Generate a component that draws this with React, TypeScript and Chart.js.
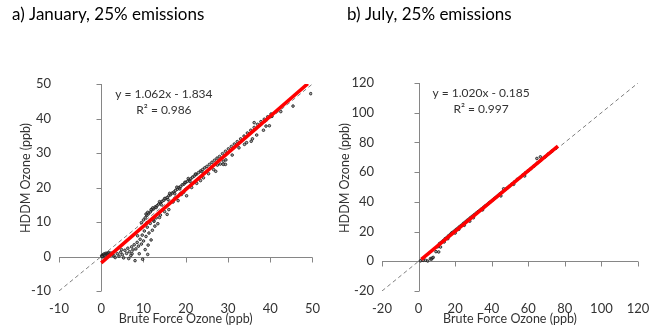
import React, { useEffect, useRef } from "react";
import { Chart, registerables } from "chart.js";

Chart.register(...registerables);

// ---------- text ----------
const janTitle = "a) January, 25% emissions";
const julTitle = "b) July, 25% emissions";
const xTitle = "Brute Force Ozone (ppb)";
const yTitle = "HDDM Ozone (ppb)";
const janEquation = "y = 1.062x - 1.834";
const janR2 = "R² = 0.986";
const julEquation = "y = 1.020x - 0.185";
const julR2 = "R² = 0.997";

// ---------- axes (min, max, step) ----------
const janAxisMin = -10;
const janAxisMax = 50;
const janAxisStep = 10;
const julAxisMin = -20;
const julAxisMax = 120;
const julAxisStep = 20;

// ---------- January scatter (brute force, HDDM) ----------
const janPoints: [number, number][] = [
  [0.1, 0.2], [0.3, 0.4], [0.5, 0.3], [0.6, 0.7], [0.8, 0.5], [1.0, 0.9], [1.2, 0.6], [1.4, 1.0],
  [1.6, 0.8], [1.8, 1.1], [0.4, -0.1], [2.0, 0.6], [2.3, 1.0], [2.6, 0.4], [0.2, 0.0], [0.9, 0.2], [1.5, 0.3],
  [3.0, 0.2], [3.3, -0.3], [3.8, 0.8], [4.2, 0.1], [4.6, 1.2], [5.0, 0.5], [5.3, -0.4], [5.6, 1.8],
  [6.0, 0.9], [6.3, 2.4], [6.7, 1.4], [7.0, 0.3], [7.2, 2.8], [7.5, 1.9], [7.8, 3.4], [8.0, -1.2],
  [8.2, 2.2], [8.5, 4.1], [8.8, 3.0], [9.0, 0.8], [9.2, 5.0], [9.5, 3.6], [9.7, 6.2], [10.0, 4.5],
  [10.2, 7.4], [10.4, 2.0], [10.6, 5.8], [10.9, 8.5], [11.1, 3.3], [11.3, 6.8], [11.6, 9.6], [11.8, 4.8],
  [12.1, 7.6], [12.4, 10.5], [12.7, 8.8], [13.0, 11.2], [13.4, 9.5], [14.0, 12.0], [6.5, -0.6], [9.8, -0.8],
  [4.8, 2.0], [8.6, 6.0], [10.8, 9.8], [7.3, 0.8], [11.0, 0.6], [15.6, 12.2],
  [9.5, 9.8], [10.0, 10.6], [10.4, 11.2], [10.8, 11.9], [11.2, 12.4], [11.6, 12.9], [12.0, 13.5], [12.4, 13.8],
  [12.8, 14.4], [13.2, 14.7], [13.6, 15.2], [14.0, 15.5], [14.4, 16.0], [14.8, 16.3], [15.2, 16.8], [15.6, 17.1],
  [16.0, 17.6], [16.4, 17.9], [16.8, 18.4], [17.2, 18.7], [17.6, 19.2], [18.0, 19.5], [18.4, 20.0], [18.8, 20.3],
  [19.2, 20.8], [19.6, 21.0], [20.0, 21.5], [20.4, 21.8], [20.8, 22.2], [21.2, 22.5], [21.6, 23.0], [22.0, 23.3],
  [22.5, 23.8], [23.0, 24.3], [23.5, 24.8], [24.0, 25.2], [24.5, 25.7], [25.0, 26.1], [25.6, 26.7], [26.2, 27.3],
  [26.8, 27.9], [27.4, 28.5], [28.0, 29.0], [28.7, 29.8], [29.4, 30.5], [30.1, 31.2], [30.8, 31.9], [31.5, 32.6],
  [32.2, 33.3], [33.0, 34.1], [33.8, 34.9], [34.6, 35.8], [35.4, 36.6], [36.2, 37.4], [37.0, 38.3], [37.8, 39.1],
  [38.6, 39.8], [39.4, 40.5], [40.2, 41.3],
  [11.0, 12.8], [12.2, 14.1], [13.0, 14.2], [14.2, 15.0], [15.0, 16.8], [16.2, 18.3], [17.4, 18.2], [18.6, 19.6],
  [19.8, 21.5], [21.0, 21.8], [22.3, 23.9], [23.8, 24.6], [10.6, 12.3], [11.8, 13.6], [13.8, 15.9], [15.8, 16.5],
  [17.9, 20.1], [20.6, 22.6],
  [12.5, 10.2], [13.8, 11.3], [15.0, 13.0], [16.0, 13.6], [17.0, 15.8], [18.2, 16.2], [19.0, 18.0], [20.2, 17.6],
  [21.4, 20.0], [22.6, 21.2], [24.2, 22.8], [25.4, 24.0], [26.6, 25.2], [28.2, 26.8], [29.5, 28.0], [31.0, 29.4],
  [32.6, 31.5], [34.4, 33.0], [35.8, 34.1], [36.8, 35.2], [38.4, 36.6], [39.0, 37.8], [39.8, 37.9], [40.4, 40.6],
  [45.4, 43.6], [49.6, 47.2], [42.5, 42.0], [19.5, 18.6], [23.5, 22.0], [27.5, 26.5],
  [27.1, 24.7], [28.9, 26.7], [36.2, 38.8], [33.9, 32.5], [35.5, 33.4], [28.9, 27.6], [29.4, 26.7],
];

// January regression line end points and 1:1 reference line
const janFitX = [0, 48.9];
const janFitY = [-1.834, 50.1];
const janRefX = [-10, 50];
const janRefY = [-10, 50];

// ---------- July scatter (brute force, HDDM) ----------
const julPoints: [number, number][] = [
  [1.0, 0.3], [2.5, 0.6], [3.8, 0.7], [5.0, 0.2], [6.5, 1.8], [7.0, 1.4], [7.5, 2.2], [8.0, 2.6],
  [9.5, 6.5], [11.0, 6.3], [12.0, 9.6], [10.5, 9.8], [11.5, 12.0], [12.5, 12.8], [13.5, 13.9], [14.5, 15.2],
  [15.5, 16.1], [16.5, 17.3], [17.5, 18.2], [18.5, 19.4], [19.5, 20.3], [20.5, 21.4], [21.5, 22.3], [22.5, 23.4],
  [23.5, 24.3], [24.5, 25.5], [25.5, 26.4], [26.5, 27.5], [27.5, 28.4], [28.5, 29.5], [29.5, 30.4], [30.5, 31.4],
  [31.5, 32.4], [32.5, 33.4], [33.5, 34.3], [34.5, 35.3], [35.5, 36.3], [36.5, 37.3], [37.5, 38.2], [38.5, 39.3],
  [39.5, 40.2], [40.5, 41.2], [41.5, 42.3], [42.5, 43.2], [43.5, 44.3], [44.5, 45.4], [45.5, 46.3], [46.5, 48.8],
  [47.5, 48.4], [48.5, 49.3], [49.5, 50.4], [51.0, 52.0], [52.5, 53.5], [54.0, 55.2], [55.5, 56.4], [57.0, 58.1],
  [58.5, 59.6], [60.0, 61.0], [61.5, 62.4], [63.0, 64.0], [64.7, 69.2], [66.6, 70.3], [65.0, 66.2], [67.0, 68.3],
  [69.0, 70.2], [71.0, 72.3], [73.0, 74.2], [75.0, 76.0], [16.0, 15.2], [20.0, 19.0], [25.0, 24.2], [30.0, 29.3],
  [14.0, 13.0], [18.0, 18.9], [22.0, 21.5], [28.0, 27.0], [35.0, 34.6], [45.0, 44.0], [52.0, 51.8], [58.0, 57.4],
];

const julFitX = [1.5, 76.2];
const julFitY = [1.35, 77.5];
const julRefX = [-20, 120];
const julRefY = [-20, 120];

// ---------- styling ----------
const FONT = "Lato, 'Open Sans', sans-serif";
const TEXT = "#333333";
const AXIS = "#868686";

type PanelProps = {
  left: number;
  title: string;
  equation: string;
  r2: string;
  points: [number, number][];
  fitX: number[];
  fitY: number[];
  refX: number[];
  refY: number[];
  min: number;
  max: number;
  step: number;
  // layout
  areaLeft: number;
  areaRight: number;
  areaTop: number;
  areaBottom: number;
  yTickPad: number;
  yTitleX: number;
  yTitleY: number;
  titleX: number;
  textFrac: number;
};

const W = 330;
const H = 329;

function Panel(p: PanelProps) {
  const ref = useRef<HTMLCanvasElement | null>(null);
  useEffect(() => {
    const canvas = ref.current;
    if (!canvas) return;

    const decor = {
      id: "decor",
      beforeDatasetsDraw(chart: any) {
        const { ctx, chartArea } = chart;
        const xs = chart.scales.x;
        const ys = chart.scales.y;
        const x0 = Math.round(xs.getPixelForValue(0)) + 0.5;
        const y0 = Math.round(ys.getPixelForValue(0)) + 0.5;
        ctx.save();
        ctx.strokeStyle = AXIS;
        ctx.lineWidth = 1;
        ctx.beginPath();
        ctx.moveTo(chartArea.left, y0);
        ctx.lineTo(chartArea.right, y0);
        xs.ticks.forEach((t: any) => {
          const px = Math.round(xs.getPixelForValue(t.value)) + 0.5;
          ctx.moveTo(px, y0);
          ctx.lineTo(px, y0 + 5);
        });
        ctx.moveTo(x0, chartArea.top);
        ctx.lineTo(x0, chartArea.bottom);
        ys.ticks.forEach((t: any) => {
          const py = Math.round(ys.getPixelForValue(t.value)) + 0.5;
          ctx.moveTo(x0 - 5, py);
          ctx.lineTo(x0, py);
        });
        ctx.stroke();
        ctx.restore();
      },
      afterDraw(chart: any) {
        const { ctx, chartArea } = chart;
        ctx.save();
        ctx.fillStyle = "#000000";
        ctx.textBaseline = "middle";
        ctx.textAlign = "left";
        ctx.font = `17px ${FONT}`;
        ctx.fillText(p.title, p.titleX, 15);
        ctx.fillStyle = TEXT;
        ctx.textAlign = "center";
        ctx.font = `12px ${FONT}`;
        const cx = chartArea.left + p.textFrac * (chartArea.right - chartArea.left);
        ctx.fillText(p.equation, cx, chartArea.top + 10);
        ctx.fillText(p.r2, cx, chartArea.top + 26);
        // y axis title
        ctx.font = `12.5px ${FONT}`;
        ctx.translate(p.yTitleX, p.yTitleY);
        ctx.rotate(-Math.PI / 2);
        ctx.fillText(yTitle, 0, 0);
        ctx.restore();
      },
    };

    const chart = new Chart(canvas, {
      type: "scatter",
      data: {
        datasets: [
          {
            label: "fit",
            data: p.fitX.map((x, i) => ({ x, y: p.fitY[i] })),
            showLine: true,
            borderColor: "#ff0000",
            borderWidth: 3.5,
            pointRadius: 0,
            order: 0,
          },
          {
            label: "points",
            data: p.points.map(([x, y]) => ({ x, y })),
            showLine: false,
            pointStyle: "circle",
            pointRadius: 1.3,
            borderWidth: 1,
            borderColor: "rgba(30,30,30,0.85)",
            backgroundColor: "rgba(110,110,110,0.6)",
            order: 1,
          },
          {
            label: "1:1",
            data: p.refX.map((x, i) => ({ x, y: p.refY[i] })),
            showLine: true,
            borderColor: "#7f7f7f",
            borderWidth: 1,
            borderDash: [4, 3],
            pointRadius: 0,
            order: 2,
          },
        ],
      },
      options: {
        animation: false,
        responsive: false,
        devicePixelRatio: 1,
        events: [],
        layout: {
          padding: {
            left: 0,
            top: p.areaTop,
            right: W - p.areaRight,
            bottom: 0,
          },
        },
        plugins: {
          legend: { display: false },
          tooltip: { enabled: false },
          title: { display: false },
        },
        scales: {
          x: {
            type: "linear",
            min: p.min,
            max: p.max,
            grid: { display: false, drawTicks: false },
            border: { display: false },
            ticks: {
              stepSize: p.step,
              color: TEXT,
              font: { family: FONT, size: 13 },
              padding: 10,
              maxRotation: 0,
            },
            title: {
              display: true,
              text: xTitle,
              color: TEXT,
              font: { family: FONT, size: 12.5 },
              padding: { top: 0, bottom: 3 },
            },
            afterFit: (s: any) => {
              s.height = H - p.areaBottom;
            },
          },
          y: {
            type: "linear",
            min: p.min,
            max: p.max,
            grid: { display: false, drawTicks: false },
            border: { display: false },
            ticks: {
              stepSize: p.step,
              color: TEXT,
              font: { family: FONT, size: 13 },
              padding: p.yTickPad,
            },
            title: { display: false },
            afterFit: (s: any) => {
              s.width = p.areaLeft;
            },
          },
        },
      },
      plugins: [decor],
    });
    return () => chart.destroy();
  }, []);

  return (
    <canvas
      ref={ref}
      width={W}
      height={H}
      style={{ position: "absolute", left: p.left, top: 0, width: W, height: H }}
    />
  );
}

export default function App() {
  return (
    <div style={{ position: "absolute", left: 0, top: 0, width: 660, height: 329, background: "#ffffff" }}>
      <Panel
        left={0}
        title={janTitle}
        equation={janEquation}
        r2={janR2}
        points={janPoints}
        fitX={janFitX}
        fitY={janFitY}
        refX={janRefX}
        refY={janRefY}
        min={janAxisMin}
        max={janAxisMax}
        step={janAxisStep}
        areaLeft={59}
        areaRight={320}
        areaTop={84}
        areaBottom={291}
        yTickPad={8}
        yTitleX={26}
        yTitleY={178}
        titleX={12}
        textFrac={0.414}
      />
      <Panel
        left={330}
        title={julTitle}
        equation={julEquation}
        r2={julR2}
        points={julPoints}
        fitX={julFitX}
        fitY={julFitY}
        refX={julRefX}
        refY={julRefY}
        min={julAxisMin}
        max={julAxisMax}
        step={julAxisStep}
        areaLeft={52}
        areaRight={308}
        areaTop={83}
        areaBottom={291}
        yTickPad={8}
        yTitleX={15}
        yTitleY={178}
        titleX={17}
        textFrac={0.387}
      />
    </div>
  );
}
